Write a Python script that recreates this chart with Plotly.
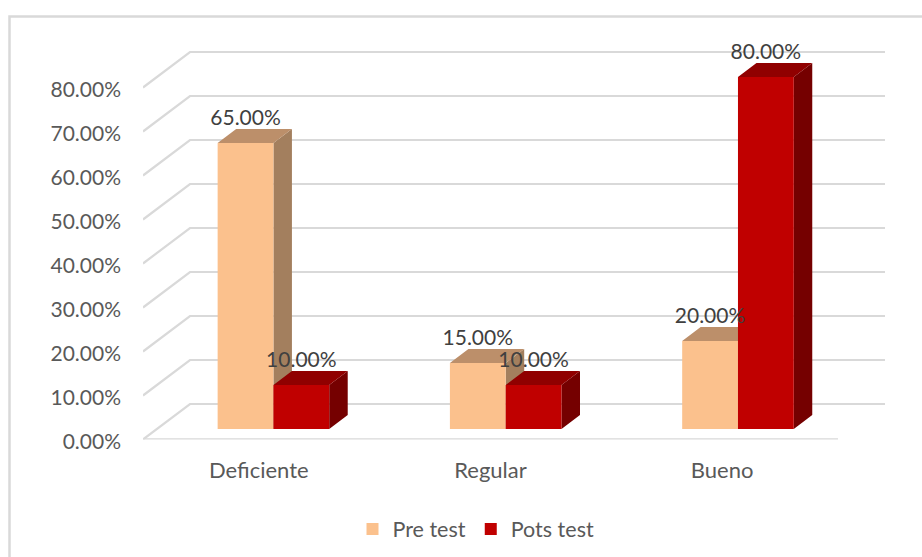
import plotly.graph_objects as go

categories = ["Deficiente", "Regular", "Bueno"]
pre_test = [65, 15, 20]
post_test = [10, 10, 80]
y_ticks = [0, 10, 20, 30, 40, 50, 60, 70, 80]
y_tick_labels = ["0.00%", "10.00%", "20.00%", "30.00%", "40.00%", "50.00%", "60.00%", "70.00%", "80.00%"]

W, H = 922, 557
L, R, T, B = 143, 885, 30, 439.5
PX_X = 231.7
PX_Y = 4.4
GROUP_STEP = 232.3 / PX_X
WALL_DX, WALL_DY = 47 / PX_X, 35.5 / PX_Y
BAR_DX, BAR_DY = 18.5 / PX_X, 14 / PX_Y
BASE = 10.5 / PX_Y
BAR_W = 55.8 / PX_X
PRE_OFF, POST_OFF = -13.3 / PX_X, 42.5 / PX_X
GRID = "#d9d9d9"
TXT = "#595959"
FONT = "Lato"
FS = 21


def faces(values, off):
    sx, sy, tx, ty = [], [], [], []
    for i, v in enumerate(values):
        c = i * GROUP_STEP + off
        x0, x1 = c - BAR_W / 2, c + BAR_W / 2
        y0, y1 = BASE, BASE + v
        sx += [x1, x1 + BAR_DX, x1 + BAR_DX, x1, x1, None]
        sy += [y0, y0 + BAR_DY, y1 + BAR_DY, y1, y0, None]
        tx += [x0, x0 + BAR_DX, x1 + BAR_DX, x1, x0, None]
        ty += [y1, y1 + BAR_DY, y1 + BAR_DY, y1, y1, None]
    return sx, sy, tx, ty


def poly(x, y, color, z):
    return go.Scatter(x=x, y=y, mode="lines", fill="toself", fillcolor=color,
                      line=dict(width=0, color=color), showlegend=False,
                      hoverinfo="skip", zorder=z, cliponaxis=False)


fig = go.Figure()
x_left, x_right = -0.5, 2.5
for v in y_ticks:
    fig.add_trace(go.Scatter(
        x=[x_left, x_left + WALL_DX, x_right + WALL_DX],
        y=[v, v + WALL_DY, v + WALL_DY], mode="lines",
        line=dict(color=GRID, width=2.2), showlegend=False, hoverinfo="skip",
        zorder=0, cliponaxis=False))
fig.add_trace(go.Scatter(x=[x_left, x_right], y=[0, 0], mode="lines",
                         line=dict(color=GRID, width=2.5), showlegend=False,
                         hoverinfo="skip", zorder=0, cliponaxis=False))

series = [("Pre test", pre_test, PRE_OFF, "#fbc18d", "#bc8f6a", "#a37f5e", 1),
          ("Pots test", post_test, POST_OFF, "#c00000", "#900000", "#750000", 3)]
for name, vals, off, front, top, side, z in series:
    sx, sy, tx, ty = faces(vals, off)
    fig.add_trace(poly(sx, sy, side, z))
    fig.add_trace(poly(tx, ty, top, z))
    fig.add_trace(go.Bar(x=[i * GROUP_STEP + off for i in range(len(vals))], y=vals,
                         base=[BASE] * len(vals), width=BAR_W, name=name,
                         marker=dict(color=front, line=dict(width=0)),
                         hoverinfo="skip", zorder=z + 1))

for vals, off in ((pre_test, PRE_OFF), (post_test, POST_OFF)):
    fig.add_trace(go.Scatter(
        x=[i * GROUP_STEP + off for i in range(len(vals))],
        y=[BASE + v + 23 / PX_Y for v in vals],
        text=[f"{v:.2f}%" for v in vals], mode="text", textposition="middle center",
        textfont=dict(family=FONT, size=FS, color="#404040"),
        showlegend=False, hoverinfo="skip", zorder=6, cliponaxis=False))

fx = lambda px: px / W
fy = lambda py: 1 - py / H
fig.add_shape(type="rect", xref="paper", yref="paper", x0=fx(9.5), x1=fx(W + 10),
              y0=fy(H + 10), y1=fy(16.5), line=dict(color=GRID, width=2.5),
              fillcolor="rgba(0,0,0,0)", layer="below")

fig.update_layout(
    width=W, height=H, paper_bgcolor="white", plot_bgcolor="white",
    margin=dict(l=0, r=0, t=0, b=0, pad=0),
    barmode="overlay",
    font=dict(family=FONT, size=FS, color=TXT),
    xaxis=dict(domain=[fx(L), fx(R)], range=[x_left, x_right + WALL_DX], tickmode="array",
               tickvals=[0, 1, 2], ticktext=categories, showgrid=False, zeroline=False,
               showline=False, ticks="", ticklabelstandoff=15, fixedrange=True,
               automargin=False, tickfont=dict(family=FONT, size=22, color=TXT)),
    yaxis=dict(domain=[fy(B), fy(T)], range=[0, (B - T) / PX_Y], tickmode="array",
               tickvals=y_ticks, ticktext=y_tick_labels, showgrid=False, zeroline=False,
               showline=False, ticks="", ticklabelstandoff=21, ticklabelshift=2,
               fixedrange=True, automargin=False),
    legend=dict(orientation="h", x=fx(476), xanchor="center", y=fy(529), yanchor="middle",
                font=dict(family=FONT, size=21.5, color=TXT), bgcolor="rgba(0,0,0,0)"),
)

fig.write_html("out.html", config={"displayModeBar": False},
               post_script="document.body.style.margin='0';")
